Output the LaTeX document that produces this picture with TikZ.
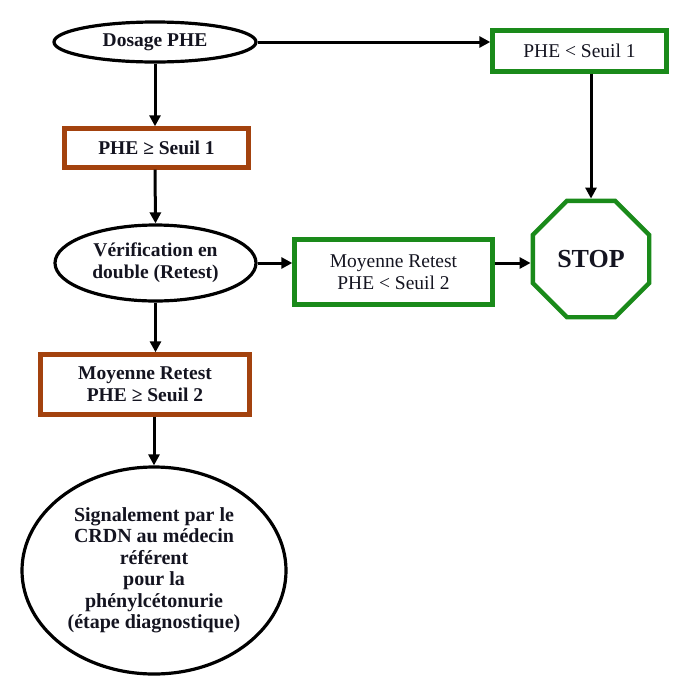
\documentclass[tikz,border=0pt]{standalone}
\usepackage{fontspec}
\setmainfont{Liberation Serif}
\usetikzlibrary{shapes.geometric,arrows.meta}
\definecolor{rust}{HTML}{A3420E}
\definecolor{okgreen}{HTML}{1A8A1A}
\definecolor{ink}{HTML}{141420}
\begin{document}
\begin{tikzpicture}[x=1pt,y=1pt,
  txt/.style={text=ink,align=center,font=\bfseries\fontsize{19.5}{22}\selectfont},
  oval/.style={txt,ellipse,draw=black,line width=3.2pt,inner sep=0pt},
  redbox/.style={txt,rectangle,draw=rust,line width=4.4pt,inner sep=0pt},
  greenbox/.style={txt,font=\fontsize{19.5}{22}\selectfont,rectangle,draw=okgreen,line width=4.4pt,inner sep=0pt},
  flow/.style={line width=3pt,-{Triangle[length=11pt,width=11pt]}}]
\useasboundingbox (0,0) rectangle (682,-678);

% nodes
\node[oval,minimum width=202pt,minimum height=40pt] (dosage) at (155,-42) {Dosage PHE};
\node[greenbox,minimum width=174pt,minimum height=41pt] (low1) at (579.5,-51) {PHE < Seuil 1};
\node[redbox,minimum width=184pt,minimum height=39pt] (high1) at (156.5,-148) {PHE ≥ Seuil 1};
\node[oval,minimum width=201pt,minimum height=76pt] (verif) at (155.5,-263) {Vérification en\\double (Retest)};
\node[greenbox,minimum width=198pt,minimum height=65pt] (low2) at (393.5,-272) {Moyenne Retest\\PHE < Seuil 2};
\node[txt,font=\bfseries\fontsize{26}{30}\selectfont,regular polygon,regular polygon sides=8,
      draw=okgreen,line width=4.4pt,inner sep=0pt,minimum size=126pt] (stop) at (591,-259) {STOP};
\node[redbox,minimum width=209pt,minimum height=60pt] (high2) at (145,-384.5) {Moyenne Retest\\PHE ≥ Seuil 2};
\node[oval,font=\bfseries\fontsize{20}{21.5}\selectfont,minimum width=264pt,minimum height=207pt] (report) at (154,-570.5)
  {Signalement par le\\CRDN au médecin\\référent\\pour la\\phénylcétonurie\\(étape diagnostique)};

% connectors
\draw[flow] (dosage.east) -- (dosage.east -| low1.west);
\draw[flow] (dosage.south) -- (dosage.south |- high1.north);
\coordinate (lowout) at (stop.north |- low1.south);
\draw[flow] (lowout) -- (stop.north);
\draw[flow] (high1.south -| dosage.south) -- (verif.north);
\draw[flow] (verif.east) -- (verif.east -| low2.west);
\draw[flow] (low2.east |- verif.east) -- (stop.west |- verif.east);
\draw[flow] (verif.south) -- (verif.south |- high2.north);
\draw[flow] (report.north |- high2.south) -- (report.north);
\end{tikzpicture}
\end{document}
